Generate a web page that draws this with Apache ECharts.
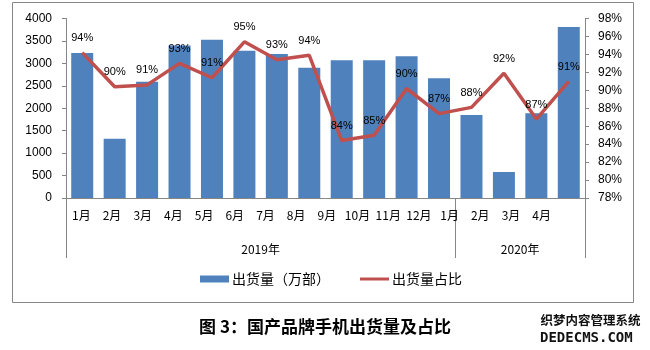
<!DOCTYPE html>
<html>
<head>
<meta charset="utf-8">
<script src="https://cdn.jsdelivr.net/npm/echarts@6/dist/echarts.min.js"></script>
<style>
html,body{margin:0;padding:0;background:#fff;}
#c{width:650px;height:350px;}
</style>
</head>
<body>
<div id="c"></div>
<script>
var months = ['1月','2月','3月','4月','5月','6月','7月','8月','9月','10月','11月','12月','1月','2月','3月','4月'];
var years = ['2019年','2020年'];
var yearSpans = [12,4];
var shipments = [3230,1320,2590,3400,3525,3280,3210,2900,3070,3070,3160,2670,1850,580,1890,3810];
var shares = [94.2,90.4,90.6,93.0,91.4,95.4,93.4,93.9,84.4,85.0,90.2,87.4,88.1,91.9,86.8,91.0];
var leftTicks = {min:0,max:4000,interval:500};
var rightTicks = {min:78,max:98,interval:2};

var yearBounds = [0]; var yearCenters = [];
yearSpans.forEach(function(s,i){ var st = yearBounds[i]; yearBounds.push(st+s); yearCenters.push(st+s/2); });

var FONT = "'Liberation Sans','Noto Sans CJK SC',sans-serif";
var CJK = "'Noto Sans CJK SC','Liberation Sans',sans-serif";
var GRAY = '#868686';

var chart = echarts.init(document.getElementById('c'));
chart.setOption({
  backgroundColor:'#fff',
  animation:false,
  textStyle:{fontFamily:FONT},
  graphic:[
    {type:'rect',z:-10,shape:{x:12.5,y:2.5,width:621,height:300},style:{fill:'none',stroke:GRAY,lineWidth:1}},
    {type:'text',left:'center',top:318,style:{text:'图 3：国产品牌手机出货量及占比',font:"bold 17px 'Noto Sans CJK SC'",fill:'#000'}},
    {type:'text',left:540,top:313,style:{text:'织梦内容管理系统',font:"bold 12.5px 'Noto Sans CJK SC'",fill:'#111',stroke:'#fff',lineWidth:1}},
    {type:'text',left:540,top:331,style:{text:'DEDECMS.COM',font:"bold 14px 'DejaVu Sans Mono'",fill:'#111'}}
  ],
  legend:[
    {left:195,top:267,itemWidth:29,itemHeight:7,itemGap:20,icon:'rect',
     data:[{name:'出货量（万部）'}],textStyle:{fontFamily:CJK,fontSize:14,color:'#000',padding:[0,0,0,-2]}},
    {left:355,top:267,itemWidth:29,itemHeight:3,icon:'rect',
     data:[{name:'出货量占比'}],textStyle:{fontFamily:CJK,fontSize:14,color:'#000',padding:[0,0,0,-2]}}
  ],
  grid:[
    {left:66,right:65,top:18.5,bottom:152},
    {left:66,width:491,top:18.5,bottom:152}
  ],
  xAxis:[
    {type:'category',gridIndex:0,data:months,position:'bottom',
     axisLine:{lineStyle:{color:GRAY}},axisTick:{length:30,lineStyle:{color:GRAY}},
     axisLabel:{show:false}},
    {type:'value',gridIndex:0,min:0,max:yearBounds[yearBounds.length-1],position:'bottom',
     axisLine:{show:false},splitLine:{show:false},
     axisTick:{show:true,customValues:yearBounds,length:60,lineStyle:{color:GRAY}},
     axisLabel:{show:true,customValues:yearCenters,margin:45,fontSize:12,color:'#000',fontFamily:CJK,
       formatter:function(v){var i=yearCenters.indexOf(v);return i>=0?years[i]:'';}}},
    {type:'category',gridIndex:1,data:months,position:'bottom',
     axisLine:{show:false},axisTick:{show:false},
     axisLabel:{interval:0,margin:11,fontSize:12,color:'#000',fontFamily:CJK}}
  ],
  yAxis:[
    {type:'value',gridIndex:0,min:leftTicks.min,max:leftTicks.max,interval:leftTicks.interval,
     axisLine:{show:true,lineStyle:{color:GRAY}},axisTick:{show:true,length:4,lineStyle:{color:GRAY}},
     splitLine:{show:false},axisLabel:{margin:14,fontSize:12,color:'#000',formatter:function(v){return String(v);}}},
    {type:'value',gridIndex:0,position:'right',min:rightTicks.min,max:rightTicks.max,interval:rightTicks.interval,
     axisLine:{show:true,lineStyle:{color:GRAY}},axisTick:{show:true,length:4,lineStyle:{color:GRAY}},
     splitLine:{show:false},axisLabel:{margin:13,fontSize:12,color:'#000',formatter:'{value}%'}},
    {type:'value',gridIndex:1,show:false}
  ],
  series:[
    {name:'出货量（万部）',type:'bar',xAxisIndex:0,yAxisIndex:0,data:shipments,
     barWidth:22,itemStyle:{color:'#4F81BD'}},
    {name:'出货量占比',type:'line',xAxisIndex:0,yAxisIndex:1,data:shares,
     symbol:'circle',symbolSize:0.1,showSymbol:true,
     lineStyle:{color:'#C0504D',width:3.5},itemStyle:{color:'#C0504D'},
     label:{show:true,position:'top',distance:9,fontSize:11,color:'#000',
       formatter:function(p){return Math.round(p.value)+'%';}}}
  ]
});
</script>
</body>
</html>
